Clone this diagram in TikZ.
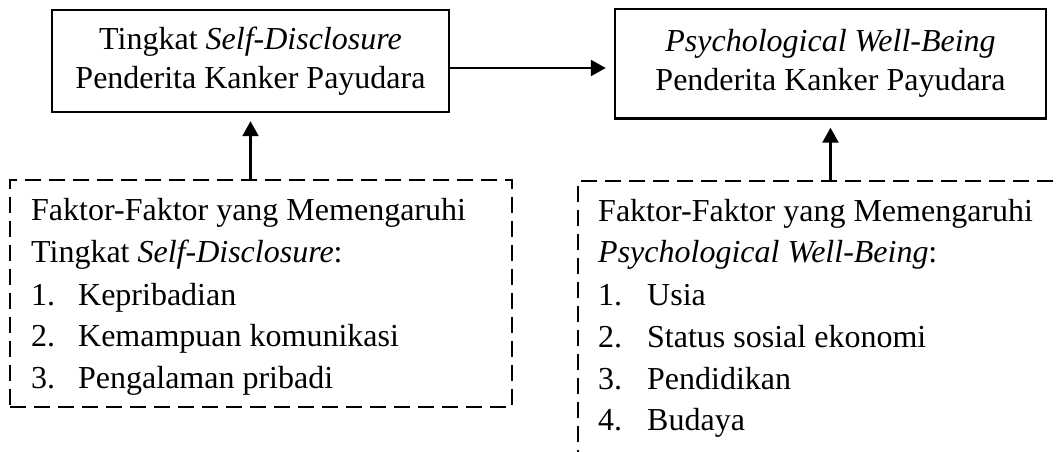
\documentclass[tikz,border=0pt]{standalone}
\usepackage{fontspec}
\setmainfont{Liberation Serif}
\usetikzlibrary{arrows.meta}

\begin{document}
\begin{tikzpicture}[x=1pt,y=1pt]
		\tikzstyle{every node}+=[inner sep=0pt, font=\fontsize{32}{39}\selectfont]
		\tikzstyle{mainbox}=[draw=black, line width=2.4pt, align=center]
		\tikzstyle{factorbox}=[draw=black, line width=2.6pt, dash pattern=on 16pt off 8pt]
		\tikzstyle{itemtext}=[anchor=base west, font=\fontsize{32}{41}\selectfont]
		\tikzstyle{arrowline}=[draw=black, line width=2.4pt, shorten >=8pt, -{Triangle[length=15pt,width=16pt]}]
		\useasboundingbox (0,0) rectangle (1057,-452);
		\clip (0,0) rectangle (1057,-452);
		\node [mainbox, minimum width=397, minimum height=102] (lbox) at (250.5,-61) {\raisebox{-3pt}{Tingkat \textit{Self-Disclosure}}\\\raisebox{-3pt}{Penderita Kanker Payudara}};
		\node [mainbox, minimum width=431, minimum height=109.5] (rbox) at (830.5,-63.75) {\raisebox{-3pt}{\textit{Psychological Well-Being}}\\\raisebox{-3pt}{Penderita Kanker Payudara}};
		\node [factorbox, minimum width=502, minimum height=227] (lfac) at (261,-293.5) {};
		\node [factorbox, minimum width=532, minimum height=299] (rfac) at (844,-330.5) {};
		\node [itemtext] (lf1) at (31,-220) {Faktor-Faktor yang Memengaruhi};
		\node [itemtext] (lf2) at (31,-262) {Tingkat \textit{Self-Disclosure}:};
		\node [itemtext] (lf3) at (31,-305) {\makebox[47pt][l]{1.}Kepribadian};
		\node [itemtext] (lf4) at (31,-346) {\makebox[47pt][l]{2.}Kemampuan komunikasi};
		\node [itemtext] (lf5) at (31,-388) {\makebox[47pt][l]{3.}Pengalaman pribadi};
		\node [itemtext] (rf1) at (598,-221) {Faktor-Faktor yang Memengaruhi};
		\node [itemtext] (rf2) at (598,-262) {\textit{Psychological Well-Being}:};
		\node [itemtext] (rf3) at (598,-305) {\makebox[49pt][l]{1.}Usia};
		\node [itemtext] (rf4) at (598,-347) {\makebox[49pt][l]{2.}Status sosial ekonomi};
		\node [itemtext] (rf5) at (598,-389) {\makebox[49pt][l]{3.}Pendidikan};
		\node [itemtext] (rf6) at (598,-430) {\makebox[49pt][l]{4.}Budaya};
		\coordinate (midy) at (0,-68);
		\draw [arrowline] (lbox.east |- midy) -- (rbox.west |- midy);
		\draw [arrowline] (lbox.south |- lfac.north) -- (lbox.south);
		\draw [arrowline] (rbox.south |- rfac.north) -- (rbox.south);
	\end{tikzpicture}
\end{document}
